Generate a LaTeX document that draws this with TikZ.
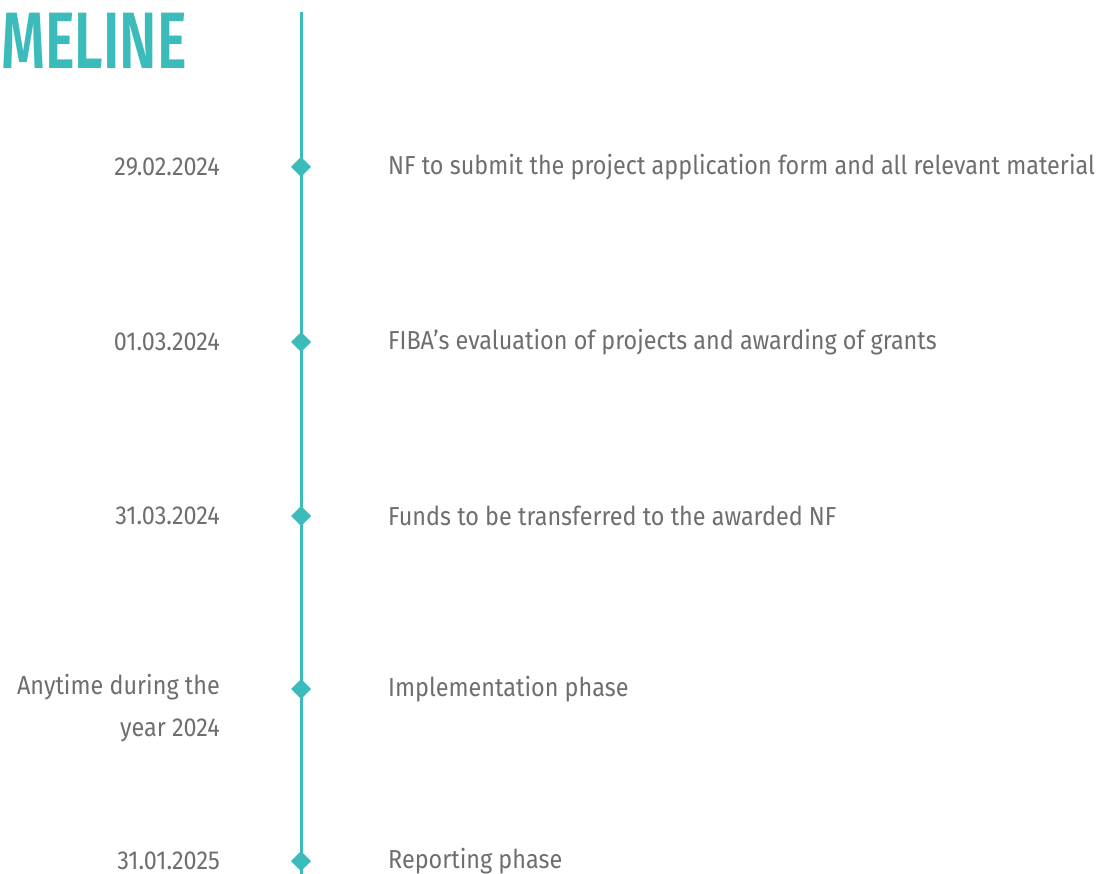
\documentclass[tikz,border=0pt]{standalone}
\usepackage{fontspec}
\setmainfont{Fira Sans}[FakeStretch=0.9]
\newfontfamily\titlefont{Fira Sans}[FakeStretch=0.7,UprightFont=* SemiBold]
\definecolor{teal}{HTML}{3BBBB9}
\definecolor{txt}{HTML}{6D6E70}
\begin{document}
\begin{tikzpicture}[x=1pt,y=-1pt,
  datelbl/.style={anchor=east,text=txt,font=\fontsize{26}{42}\selectfont,inner sep=0pt,align=right},
  desclbl/.style={anchor=west,text=txt,font=\fontsize{26}{42}\selectfont,inner sep=0pt}]
\useasboundingbox (0,0) rectangle (1101,874);
\node[anchor=west,text=teal,font=\titlefont\fontsize{80}{80}\selectfont,inner sep=0pt] (title) at (1,41) {MELINE};
\coordinate (top) at (301,12);
\coordinate (bot) at (301,874);
\draw[teal,line width=3] (top) -- (bot);
\foreach \i/\y in {1/167,2/342,3/516,4/689,5/861}{
  \fill[teal] (301,\y-10) -- (311,\y) -- (301,\y+10) -- (291,\y) -- cycle;
  \coordinate (d\i) at (301,\y);
}
\node[datelbl] (t1) at (220,167) {29.02.2024};
\node[datelbl] (t2) at (220,342) {01.03.2024};
\node[datelbl] (t3) at (220,516) {31.03.2024};
\node[datelbl,anchor=north east] (t4) at (220,674) {Anytime during the\\year 2024};
\node[datelbl] (t5) at (220,861) {31.01.2025};
\node[desclbl] (e1) at (388,167) {NF to submit the project application form and all relevant material};
\node[desclbl] (e2) at (388,342) {FIBA’s evaluation of projects and awarding of grants};
\node[desclbl] (e3) at (388,516) {Funds to be transferred to the awarded NF};
\node[desclbl] (e4) at (388,689) {Implementation phase};
\node[desclbl] (e5) at (388,861) {Reporting phase};
\end{tikzpicture}
\end{document}
